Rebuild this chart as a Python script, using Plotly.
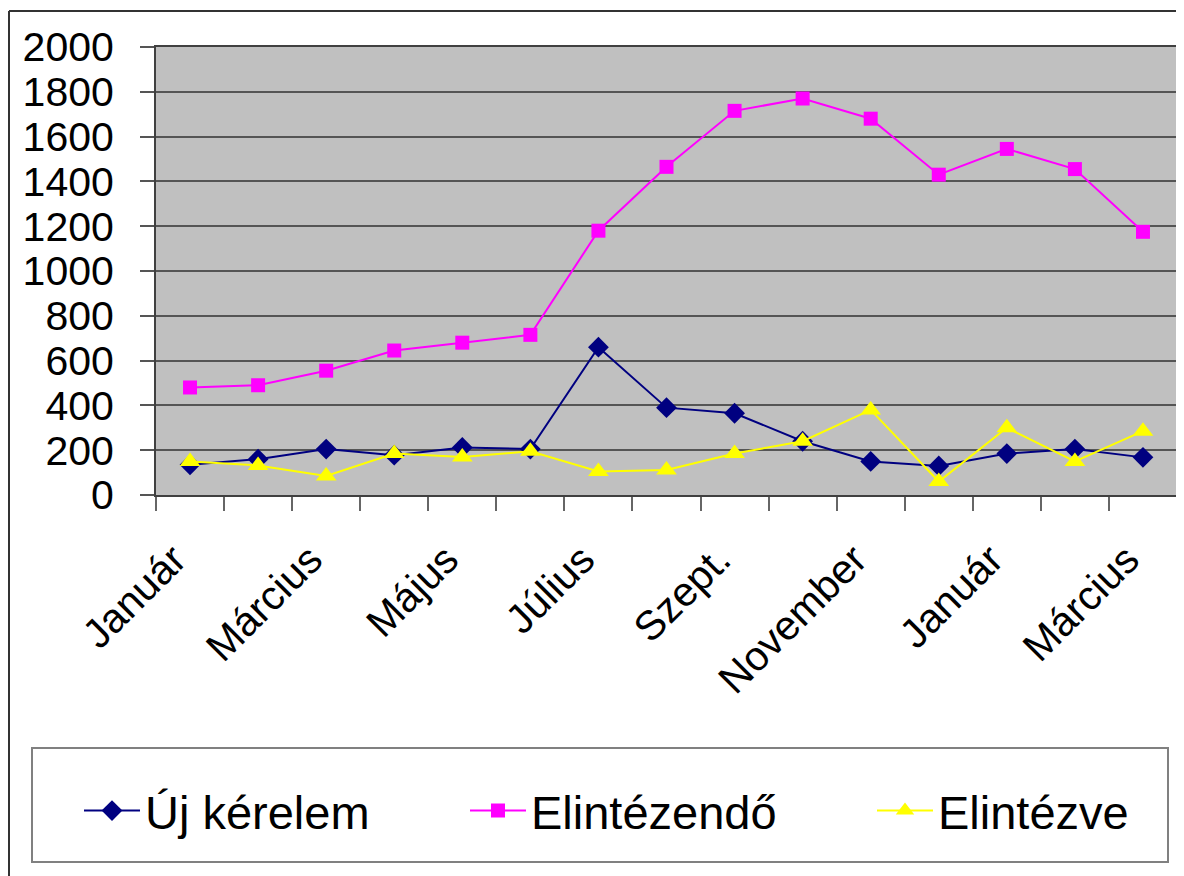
import plotly.graph_objects as go

# months shown on the x axis (15 months, Jan -> Mar of the next year)
months = ["Január", "Február", "Március", "Április", "Május", "Június", "Július",
          "Augusztus", "Szept.", "Október", "November", "December",
          "Január", "Február", "Március"]

uj_kerelem = [135, 160, 205, 178, 212, 205, 660, 390, 365, 240, 150, 130, 185, 205, 168]
elintezendo = [480, 490, 555, 645, 680, 715, 1180, 1465, 1715, 1770, 1680, 1430, 1545, 1455, 1175]
elintezve = [150, 132, 85, 185, 170, 195, 105, 112, 185, 240, 380, 60, 300, 150, 285]

x_idx = list(range(len(months)))
FONT = "Liberation Sans, Arial, sans-serif"

# page is drawn inside the default 8px body margin of the html page
OFF = 8
W, H = 1184 - OFF, 876 - OFF
# plot area in page pixels
L, R, T, B = 156, 1177, 47, 495


def px_x(p):
    return (p - L) / (R - L)


def px_y(p):
    return (B - p) / (B - T)


fig = go.Figure()

series = [
    ("Új kérelem", uj_kerelem, "#000080", "diamond", 16, "legend", 79),
    ("Elintézendő", elintezendo, "#FF00FF", "square", 14, "legend2", 465),
    ("Elintézve", elintezve, "#FFFF00", "triangle-up", 18, "legend3", 872),
]

legends = {}
for name, vals, color, sym, size, leg, lx in series:
    fig.add_trace(go.Scatter(
        x=x_idx,
        y=vals,
        mode="lines+markers",
        name=name,
        legend=leg,
        line=dict(color=color, width=2),
        marker=dict(symbol=sym, size=size, color=color),
    ))
    legends[leg] = dict(
        orientation="h",
        x=px_x(lx), y=px_y(811),
        xanchor="left", yanchor="middle",
        font=dict(size=47, family=FONT),
        bgcolor="rgba(0,0,0,0)",
        borderwidth=0,
        itemwidth=56,
    )

# outer chart frame (left and top edge)
fig.add_shape(type="line", xref="paper", yref="paper",
              x0=px_x(9), x1=px_x(9), y0=px_y(11), y1=px_y(880),
              line=dict(color="#333333", width=2))
fig.add_shape(type="line", xref="paper", yref="paper",
              x0=px_x(9), x1=px_x(1190), y0=px_y(11), y1=px_y(11),
              line=dict(color="#333333", width=2))

# legend box
fig.add_shape(type="rect", xref="paper", yref="paper",
              x0=px_x(32), x1=px_x(1168), y0=px_y(862), y1=px_y(748),
              line=dict(color="#808080", width=2), fillcolor="white", layer="below")

fig.update_layout(
    template="none",
    width=W, height=H,
    margin=dict(l=L - OFF, r=W + OFF - R, t=T - OFF, b=H + OFF - B, autoexpand=False),
    paper_bgcolor="white",
    plot_bgcolor="#C0C0C0",
    font=dict(family=FONT, color="black", size=40),
    showlegend=True,
    xaxis=dict(
        automargin=False,
        range=[-0.5, len(months) - 0.5],
        tickmode="array",
        tickvals=x_idx[::2],
        ticktext=months[::2],
        tickangle=-45,
        ticks="",
        ticklabelstandoff=22,
        ticklabelshift=-16,
        tickfont=dict(size=41),
        showgrid=False,
        zeroline=False,
        showline=True, linecolor="#404040", linewidth=2, mirror=True,
        minor=dict(tick0=-0.5, dtick=1, ticks="outside", ticklen=14,
                   tickcolor="#666666", tickwidth=2, showgrid=False),
    ),
    yaxis=dict(
        automargin=False,
        range=[0, 2000],
        tickmode="linear", tick0=0, dtick=200,
        ticks="outside", ticklen=14, tickcolor="#555555", tickwidth=2,
        ticklabelstandoff=18,
        tickfont=dict(size=41),
        showgrid=True, gridcolor="#555555", gridwidth=2,
        zeroline=False,
        showline=True, linecolor="#404040", linewidth=2, mirror=True,
    ),
    **legends,
)

fig.write_html("out.html")
